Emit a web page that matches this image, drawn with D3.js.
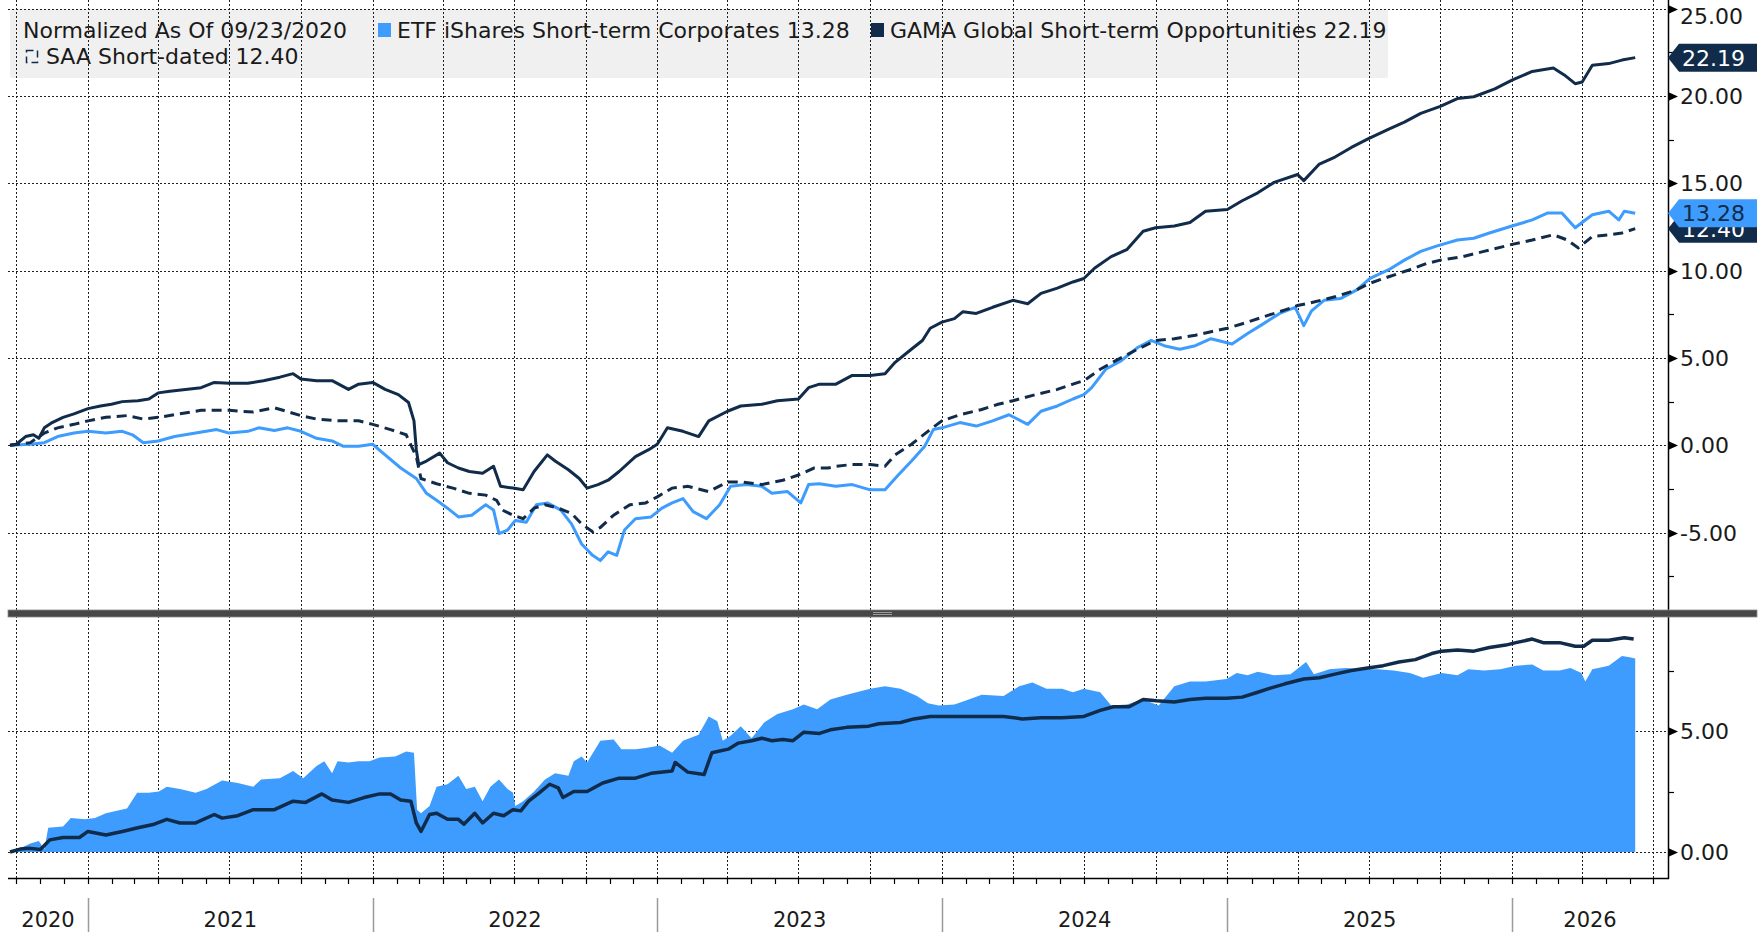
<!DOCTYPE html>
<html>
<head>
<meta charset="utf-8">
<script src="https://cdn.jsdelivr.net/npm/d3@7"></script>
<style>
    html, body { margin: 0; padding: 0; background: #fff; }
    svg { display: block; font-family: 'DejaVu Sans', sans-serif; }
</style>
</head>
<body>
<div id="main-container"></div>
<script>
// Series values, [date, value]
const ETF_SERIES = [
    ['2020-09-23', 0], ['2020-10-19', 0.06], ['2020-11-06', 0.15], ['2020-11-23', 0.5], ['2020-12-14', 0.7],
    ['2021-01-01', 0.8], ['2021-01-24', 0.7], ['2021-02-14', 0.8], ['2021-02-27', 0.6], ['2021-03-13', 0.15],
    ['2021-04-01', 0.25], ['2021-04-22', 0.5], ['2021-05-19', 0.7], ['2021-06-15', 0.9], ['2021-07-01', 0.7],
    ['2021-07-25', 0.8], ['2021-08-08', 1.0], ['2021-08-28', 0.85], ['2021-09-14', 1.0], ['2021-10-01', 0.8],
    ['2021-10-21', 0.4], ['2021-11-10', 0.25], ['2021-11-24', -0.05], ['2021-12-14', -0.05], ['2022-01-01', 0.06],
    ['2022-01-17', -0.55], ['2022-02-06', -1.3], ['2022-02-26', -1.9], ['2022-03-11', -2.75], ['2022-03-24', -3.15],
    ['2022-04-07', -3.6], ['2022-04-21', -4.1], ['2022-05-08', -4.0], ['2022-05-26', -3.4], ['2022-06-05', -3.7],
    ['2022-06-12', -5.05], ['2022-06-23', -4.85], ['2022-07-03', -4.3], ['2022-07-17', -4.4], ['2022-07-30', -3.4],
    ['2022-08-13', -3.3], ['2022-08-30', -3.7], ['2022-09-13', -4.5], ['2022-09-26', -5.65], ['2022-10-10', -6.3],
    ['2022-10-20', -6.6], ['2022-10-30', -6.1], ['2022-11-10', -6.3], ['2022-11-20', -4.85], ['2022-12-04', -4.2],
    ['2022-12-24', -4.1], ['2023-01-07', -3.6], ['2023-01-20', -3.3], ['2023-02-03', -3.05], ['2023-02-16', -3.8],
    ['2023-03-05', -4.2], ['2023-03-22', -3.4], ['2023-04-05', -2.35], ['2023-04-25', -2.25], ['2023-05-15', -2.35],
    ['2023-05-28', -2.75], ['2023-06-17', -2.65], ['2023-07-04', -3.3], ['2023-07-14', -2.25], ['2023-07-28', -2.2],
    ['2023-08-18', -2.35], ['2023-09-08', -2.25], ['2023-10-01', -2.55], ['2023-10-20', -2.55], ['2023-11-06', -1.7],
    ['2023-11-23', -0.9], ['2023-12-10', -0.05], ['2023-12-21', 0.9], ['2024-01-01', 1.0], ['2024-01-24', 1.3],
    ['2024-02-14', 1.1], ['2024-03-06', 1.4], ['2024-03-27', 1.75], ['2024-04-20', 1.2], ['2024-05-07', 1.95],
    ['2024-05-28', 2.25], ['2024-06-17', 2.65], ['2024-07-01', 2.9], ['2024-07-11', 3.3], ['2024-07-29', 4.35],
    ['2024-08-18', 4.85], ['2024-09-08', 5.6], ['2024-09-25', 6.0], ['2024-10-12', 5.7], ['2024-11-01', 5.5],
    ['2024-11-21', 5.7], ['2024-12-11', 6.1], ['2025-01-07', 5.8], ['2025-01-27', 6.4], ['2025-02-16', 6.95],
    ['2025-03-09', 7.55], ['2025-03-29', 7.9], ['2025-04-09', 6.85], ['2025-04-19', 7.7], ['2025-05-05', 8.3],
    ['2025-05-26', 8.4], ['2025-06-16', 8.9], ['2025-07-03', 9.55], ['2025-07-27', 10.05], ['2025-08-16', 10.6],
    ['2025-09-06', 11.1], ['2025-09-26', 11.4], ['2025-10-23', 11.75], ['2025-11-13', 11.85], ['2025-12-03', 12.15],
    ['2026-01-01', 12.55], ['2026-01-27', 12.9], ['2026-02-16', 13.3], ['2026-03-06', 13.3], ['2026-03-23', 12.45],
    ['2026-04-14', 13.2], ['2026-05-05', 13.4], ['2026-05-18', 12.9], ['2026-05-25', 13.4], ['2026-06-08', 13.28]
];

const GAMA_SERIES = [
    ['2020-09-23', 0], ['2020-10-01', 0.06], ['2020-10-13', 0.5], ['2020-10-23', 0.6], ['2020-10-30', 0.4],
    ['2020-11-06', 1.0], ['2020-11-16', 1.3], ['2020-11-30', 1.6], ['2020-12-14', 1.8], ['2021-01-01', 2.1],
    ['2021-01-17', 2.25], ['2021-01-31', 2.35], ['2021-02-14', 2.5], ['2021-03-06', 2.55], ['2021-03-20', 2.65],
    ['2021-04-01', 3.0], ['2021-04-16', 3.1], ['2021-05-06', 3.2], ['2021-05-26', 3.3], ['2021-06-12', 3.6],
    ['2021-07-01', 3.55], ['2021-07-25', 3.55], ['2021-08-14', 3.7], ['2021-09-04', 3.9], ['2021-09-21', 4.1],
    ['2021-10-01', 3.8], ['2021-10-21', 3.7], ['2021-11-10', 3.7], ['2021-12-01', 3.2], ['2021-12-14', 3.5],
    ['2022-01-01', 3.6], ['2022-01-17', 3.2], ['2022-02-03', 2.9], ['2022-02-16', 2.45], ['2022-02-23', 1.4],
    ['2022-02-26', -0.25], ['2022-03-01', -1.1], ['2022-03-11', -0.9], ['2022-03-28', -0.45], ['2022-04-07', -1.0],
    ['2022-04-21', -1.3], ['2022-05-05', -1.5], ['2022-05-22', -1.6], ['2022-06-05', -1.2], ['2022-06-14', -2.35],
    ['2022-06-30', -2.45], ['2022-07-13', -2.55], ['2022-07-27', -1.5], ['2022-08-13', -0.55], ['2022-08-23', -0.9],
    ['2022-09-09', -1.4], ['2022-09-23', -1.9], ['2022-10-03', -2.45], ['2022-10-17', -2.25], ['2022-10-30', -2.0],
    ['2022-11-13', -1.5], ['2022-12-04', -0.65], ['2022-12-21', -0.25], ['2023-01-01', 0.06], ['2023-01-14', 1.0],
    ['2023-02-03', 0.8], ['2023-02-23', 0.5], ['2023-03-08', 1.4], ['2023-04-01', 1.95], ['2023-04-18', 2.25],
    ['2023-05-15', 2.35], ['2023-06-04', 2.55], ['2023-07-01', 2.65], ['2023-07-14', 3.3], ['2023-07-28', 3.5],
    ['2023-08-18', 3.5], ['2023-09-08', 4.0], ['2023-10-01', 4.0], ['2023-10-20', 4.1], ['2023-11-02', 4.75],
    ['2023-11-20', 5.4], ['2023-12-07', 6.0], ['2023-12-17', 6.7], ['2024-01-01', 7.05], ['2024-01-17', 7.25],
    ['2024-01-28', 7.65], ['2024-02-14', 7.55], ['2024-03-06', 7.9], ['2024-04-01', 8.3], ['2024-04-20', 8.1],
    ['2024-05-07', 8.7], ['2024-05-28', 9.0], ['2024-06-17', 9.35], ['2024-07-01', 9.55], ['2024-07-15', 10.15],
    ['2024-08-05', 10.8], ['2024-08-25', 11.2], ['2024-09-15', 12.25], ['2024-10-01', 12.45], ['2024-10-25', 12.55],
    ['2024-11-14', 12.75], ['2024-12-04', 13.4], ['2025-01-01', 13.5], ['2025-01-20', 14.0], ['2025-02-09', 14.45],
    ['2025-03-02', 15.05], ['2025-04-01', 15.5], ['2025-04-09', 15.15], ['2025-04-29', 16.1], ['2025-05-19', 16.5],
    ['2025-06-09', 17.05], ['2025-07-01', 17.55], ['2025-07-27', 18.1], ['2025-08-16', 18.5], ['2025-09-06', 19.0],
    ['2025-10-01', 19.4], ['2025-10-23', 19.85], ['2025-11-13', 19.95], ['2025-12-10', 20.4], ['2026-01-01', 20.9],
    ['2026-01-27', 21.4], ['2026-02-23', 21.6], ['2026-03-09', 21.2], ['2026-03-23', 20.7], ['2026-04-01', 20.8],
    ['2026-04-14', 21.75], ['2026-05-05', 21.85], ['2026-05-22', 22.05], ['2026-06-08', 22.19]
];

const SAA_SERIES = [
    ['2020-09-23', 0], ['2020-10-19', 0.15], ['2020-11-06', 0.7], ['2020-11-23', 1.0], ['2020-12-14', 1.2],
    ['2021-01-01', 1.4], ['2021-01-24', 1.6], ['2021-02-20', 1.7], ['2021-03-13', 1.5], ['2021-04-01', 1.6],
    ['2021-04-29', 1.8], ['2021-05-26', 2.0], ['2021-07-01', 2.0], ['2021-08-01', 1.9], ['2021-08-28', 2.15],
    ['2021-10-01', 1.7], ['2021-10-21', 1.5], ['2021-11-17', 1.4], ['2021-12-14', 1.4], ['2022-01-01', 1.2],
    ['2022-01-24', 0.9], ['2022-02-13', 0.6], ['2022-02-26', -0.65], ['2022-03-04', -1.9], ['2022-03-24', -2.2],
    ['2022-04-14', -2.45], ['2022-05-05', -2.75], ['2022-05-26', -2.85], ['2022-06-09', -3.15], ['2022-06-16', -3.7],
    ['2022-06-30', -4.0], ['2022-07-13', -4.2], ['2022-07-27', -3.6], ['2022-08-10', -3.4], ['2022-08-27', -3.6],
    ['2022-09-13', -3.9], ['2022-09-26', -4.5], ['2022-10-10', -4.95], ['2022-10-20', -4.7], ['2022-11-06', -4.0],
    ['2022-11-27', -3.4], ['2022-12-17', -3.3], ['2023-01-01', -2.95], ['2023-01-20', -2.45], ['2023-02-09', -2.35],
    ['2023-03-08', -2.65], ['2023-04-01', -2.1], ['2023-04-18', -2.1], ['2023-05-15', -2.25], ['2023-06-11', -2.0],
    ['2023-07-01', -1.7], ['2023-07-21', -1.3], ['2023-08-08', -1.3], ['2023-08-18', -1.2], ['2023-09-08', -1.1],
    ['2023-10-01', -1.1], ['2023-10-20', -1.2], ['2023-11-02', -0.55], ['2023-11-23', 0.06], ['2023-12-14', 0.8],
    ['2024-01-01', 1.4], ['2024-01-24', 1.75], ['2024-02-21', 2.05], ['2024-03-13', 2.35], ['2024-04-01', 2.55],
    ['2024-04-30', 2.9], ['2024-05-28', 3.2], ['2024-06-17', 3.5], ['2024-07-01', 3.7], ['2024-07-22', 4.35],
    ['2024-08-11', 4.85], ['2024-09-08', 5.5], ['2024-10-01', 6.0], ['2024-10-25', 6.1], ['2024-11-21', 6.3],
    ['2024-12-11', 6.5], ['2025-01-01', 6.7], ['2025-01-27', 7.05], ['2025-02-23', 7.45], ['2025-03-16', 7.75],
    ['2025-04-01', 8.0], ['2025-04-22', 8.2], ['2025-05-19', 8.5], ['2025-06-16', 8.9], ['2025-07-01', 9.25],
    ['2025-07-27', 9.65], ['2025-08-23', 10.05], ['2025-09-13', 10.4], ['2025-10-01', 10.6], ['2025-10-30', 10.8],
    ['2025-11-26', 11.1], ['2026-01-01', 11.5], ['2026-01-27', 11.75], ['2026-02-23', 12.05], ['2026-03-13', 11.75],
    ['2026-03-27', 11.3], ['2026-04-14', 11.95], ['2026-05-05', 12.05], ['2026-05-22', 12.15], ['2026-06-08', 12.40]
];

// Lower panel: filled series and line
const LOWER_AREA_SERIES = [
    ['2020-09-23', 0], ['2020-10-06', 0.15], ['2020-10-19', 0.35], ['2020-10-30', 0.45], ['2020-11-06', 0.1],
    ['2020-11-11', 1.0], ['2020-11-30', 1.05], ['2020-12-10', 1.4], ['2020-12-28', 1.35], ['2021-01-10', 1.4],
    ['2021-01-24', 1.6], ['2021-02-07', 1.7], ['2021-02-20', 1.8], ['2021-03-05', 2.45], ['2021-03-20', 2.45],
    ['2021-04-02', 2.5], ['2021-04-12', 2.7], ['2021-04-29', 2.6], ['2021-05-19', 2.45], ['2021-06-02', 2.6],
    ['2021-06-22', 2.95], ['2021-07-12', 2.85], ['2021-08-01', 2.7], ['2021-08-11', 3.0], ['2021-09-04', 3.05],
    ['2021-09-21', 3.35], ['2021-10-04', 3.05], ['2021-10-21', 3.55], ['2021-10-31', 3.75], ['2021-11-10', 3.25],
    ['2021-11-17', 3.75], ['2021-12-01', 3.7], ['2021-12-14', 3.75], ['2021-12-28', 3.75], ['2022-01-10', 3.9],
    ['2022-01-30', 3.95], ['2022-02-13', 4.15], ['2022-02-23', 4.1], ['2022-02-27', 1.75], ['2022-03-04', 1.6],
    ['2022-03-15', 1.9], ['2022-03-24', 2.7], ['2022-04-07', 2.8], ['2022-04-21', 3.15], ['2022-05-01', 2.6],
    ['2022-05-12', 2.7], ['2022-05-22', 2.1], ['2022-06-01', 2.7], ['2022-06-12', 3.0], ['2022-06-23', 2.6],
    ['2022-06-30', 2.45], ['2022-07-03', 1.9], ['2022-07-13', 2.1], ['2022-07-27', 2.5], ['2022-08-10', 3.0],
    ['2022-08-23', 3.25], ['2022-09-09', 3.15], ['2022-09-16', 3.75], ['2022-09-26', 3.95], ['2022-10-03', 3.7],
    ['2022-10-20', 4.6], ['2022-11-06', 4.65], ['2022-11-16', 4.25], ['2022-12-04', 4.25], ['2022-12-17', 4.3],
    ['2023-01-04', 4.4], ['2023-01-20', 4.1], ['2023-02-03', 4.6], ['2023-02-23', 4.85], ['2023-03-08', 5.6],
    ['2023-03-19', 5.4], ['2023-03-26', 4.6], ['2023-04-05', 4.8], ['2023-04-18', 5.2], ['2023-05-02', 4.7],
    ['2023-05-18', 5.35], ['2023-06-04', 5.7], ['2023-06-24', 5.9], ['2023-07-08', 6.1], ['2023-07-25', 5.9],
    ['2023-08-11', 6.3], ['2023-09-01', 6.5], ['2023-10-01', 6.75], ['2023-10-20', 6.85], ['2023-11-09', 6.75],
    ['2023-11-30', 6.45], ['2023-12-14', 6.15], ['2023-12-28', 6.05], ['2024-01-17', 6.1], ['2024-01-31', 6.25],
    ['2024-02-21', 6.5], ['2024-03-20', 6.45], ['2024-04-09', 6.85], ['2024-04-26', 7.0], ['2024-05-14', 6.75],
    ['2024-06-03', 6.75], ['2024-06-17', 6.6], ['2024-07-01', 6.75], ['2024-07-22', 6.6], ['2024-08-05', 6.05],
    ['2024-08-25', 6.1], ['2024-09-15', 6.3], ['2024-10-05', 6.05], ['2024-10-25', 6.85], ['2024-11-14', 7.05],
    ['2024-12-04', 7.05], ['2024-12-31', 7.15], ['2025-01-13', 7.4], ['2025-01-27', 7.3], ['2025-02-09', 7.45],
    ['2025-03-02', 7.3], ['2025-03-23', 7.35], ['2025-04-12', 7.85], ['2025-04-22', 7.35], ['2025-05-12', 7.55],
    ['2025-06-02', 7.6], ['2025-06-23', 7.55], ['2025-07-13', 7.55], ['2025-08-02', 7.5], ['2025-08-23', 7.4],
    ['2025-09-09', 7.2], ['2025-10-03', 7.4], ['2025-10-23', 7.3], ['2025-11-06', 7.55], ['2025-11-26', 7.5],
    ['2025-12-17', 7.55], ['2026-01-06', 7.7], ['2026-01-27', 7.75], ['2026-02-10', 7.5], ['2026-03-03', 7.5],
    ['2026-03-17', 7.6], ['2026-03-31', 7.4], ['2026-04-05', 7.05], ['2026-04-14', 7.55], ['2026-05-05', 7.7],
    ['2026-05-22', 8.1], ['2026-06-01', 8.05], ['2026-06-08', 8.0]
];

const LOWER_LINE_SERIES = [
    ['2020-09-23', 0], ['2020-10-06', 0.12], ['2020-10-19', 0.15], ['2020-11-01', 0.1], ['2020-11-13', 0.5],
    ['2020-11-30', 0.6], ['2020-12-21', 0.6], ['2021-01-01', 0.85], ['2021-01-24', 0.7], ['2021-02-14', 0.85],
    ['2021-03-06', 1.0], ['2021-03-27', 1.15], ['2021-04-12', 1.35], ['2021-04-29', 1.2], ['2021-05-19', 1.2],
    ['2021-06-12', 1.55], ['2021-06-22', 1.4], ['2021-07-12', 1.5], ['2021-08-01', 1.75], ['2021-08-28', 1.75],
    ['2021-09-21', 2.1], ['2021-10-07', 2.05], ['2021-10-28', 2.4], ['2021-11-10', 2.15], ['2021-12-01', 2.05],
    ['2021-12-21', 2.25], ['2022-01-10', 2.4], ['2022-01-24', 2.4], ['2022-02-06', 2.15], ['2022-02-19', 2.1],
    ['2022-02-26', 1.2], ['2022-03-04', 0.85], ['2022-03-15', 1.55], ['2022-03-24', 1.6], ['2022-04-07', 1.35],
    ['2022-04-21', 1.35], ['2022-04-28', 1.15], ['2022-05-12', 1.6], ['2022-05-22', 1.2], ['2022-06-05', 1.6],
    ['2022-06-18', 1.5], ['2022-06-30', 1.75], ['2022-07-10', 1.7], ['2022-07-20', 2.1], ['2022-08-03', 2.45],
    ['2022-08-16', 2.8], ['2022-08-27', 2.65], ['2022-09-02', 2.25], ['2022-09-16', 2.5], ['2022-10-03', 2.5],
    ['2022-10-23', 2.85], ['2022-11-13', 3.05], ['2022-12-04', 3.05], ['2022-12-24', 3.25], ['2023-01-20', 3.35],
    ['2023-01-24', 3.7], ['2023-02-09', 3.3], ['2023-03-02', 3.2], ['2023-03-12', 4.1], ['2023-04-02', 4.25],
    ['2023-04-15', 4.5], ['2023-05-02', 4.6], ['2023-05-15', 4.7], ['2023-05-28', 4.6], ['2023-06-11', 4.65],
    ['2023-06-24', 4.6], ['2023-07-08', 4.95], ['2023-07-28', 4.9], ['2023-08-11', 5.05], ['2023-09-01', 5.15],
    ['2023-09-29', 5.2], ['2023-10-12', 5.3], ['2023-11-09', 5.35], ['2023-11-26', 5.5], ['2023-12-17', 5.6],
    ['2024-01-11', 5.6], ['2024-02-14', 5.6], ['2024-03-20', 5.6], ['2024-04-13', 5.5], ['2024-05-07', 5.55],
    ['2024-06-03', 5.55], ['2024-07-01', 5.6], ['2024-07-22', 5.85], ['2024-08-08', 6.0], ['2024-08-28', 6.0],
    ['2024-09-15', 6.3], ['2024-10-02', 6.25], ['2024-10-25', 6.2], ['2024-11-14', 6.3], ['2024-12-04', 6.35],
    ['2024-12-31', 6.35], ['2025-01-20', 6.4], ['2025-02-09', 6.6], ['2025-02-23', 6.75], ['2025-03-16', 6.95],
    ['2025-04-09', 7.15], ['2025-04-29', 7.2], ['2025-05-19', 7.35], ['2025-06-09', 7.5], ['2025-06-30', 7.6],
    ['2025-07-20', 7.7], ['2025-08-09', 7.85], ['2025-08-30', 7.95], ['2025-09-20', 8.2], ['2025-10-03', 8.3],
    ['2025-10-23', 8.35], ['2025-11-13', 8.3], ['2025-12-03', 8.45], ['2025-12-24', 8.55], ['2026-01-06', 8.65],
    ['2026-01-27', 8.8], ['2026-02-10', 8.65], ['2026-03-03', 8.65], ['2026-03-23', 8.5], ['2026-04-03', 8.5],
    ['2026-04-14', 8.75], ['2026-05-05', 8.75], ['2026-05-25', 8.85], ['2026-06-06', 8.8]
];

const TOP_TICKS = [-5, 0, 5, 10, 15, 20, 25];
const TOP_MINOR_TICKS = [-7.5, -2.5, 2.5, 7.5, 12.5, 17.5, 22.5];
const BOTTOM_TICKS = [0, 5];
const BOTTOM_MINOR_TICKS = [2.5, 7.5];
const YEAR_LABELS = ['2020', '2021', '2022', '2023', '2024', '2025', '2026'];

const LEGEND_TITLE = 'Normalized As Of 09/23/2020';
const ETF_NAME = 'ETF iShares Short-term Corporates';
const GAMA_NAME = 'GAMA Global Short-term Opportunities';
const SAA_NAME = 'SAA Short-dated';

const NAVY = '#112b4a';
const BLUE = '#3d9cfd';
const GRID = '#1e1e1e';

const SVG_WIDTH = 1763;
const SVG_HEIGHT = 932;
const PLOT_LEFT = 8;
const AXIS_X = 1668;
const TOP_PANEL = { top: 0, bottom: 610 };
const BOTTOM_PANEL = { top: 617, bottom: 878 };

const parse = d3.utcParse('%Y-%m-%d');
const toPoints = arr => arr.map(([d, v]) => ({ date: parse(d), value: v }));

const etf = toPoints(ETF_SERIES);
const gama = toPoints(GAMA_SERIES);
const saa = toPoints(SAA_SERIES);
const lowerArea = toPoints(LOWER_AREA_SERIES);
const lowerLine = toPoints(LOWER_LINE_SERIES);

const SVG = d3.select('#main-container').append('svg')
    .attr('width', SVG_WIDTH)
    .attr('height', SVG_HEIGHT);

// Scales
const x = d3.scaleUtc()
    .domain([new Date(Date.UTC(2021, 0, 1)), new Date(Date.UTC(2026, 0, 1))])
    .range([88, 1512]);
const yTop = d3.scaleLinear().domain([0, 20]).range([445.3, 95.9]);
const yBottom = d3.scaleLinear().domain([0, 5]).range([852, 731]);

const quarterDates = d3.utcMonth.every(3).range(new Date(Date.UTC(2020, 9, 1)), new Date(Date.UTC(2026, 7, 1)));
const monthDates = d3.utcMonth.range(new Date(Date.UTC(2020, 9, 1)), new Date(Date.UTC(2026, 7, 1)));
const yearStarts = d3.utcYear.range(new Date(Date.UTC(2021, 0, 1)), new Date(Date.UTC(2027, 0, 1)));

// Legend background (grid runs over it)
const LEGEND = SVG.append('g').attr('id', 'legend');
LEGEND.append('rect')
    .attr('x', 10).attr('y', 9)
    .attr('width', 1378).attr('height', 69)
    .attr('rx', 2)
    .attr('fill', '#f0f0f0');

// Grid
const GRID_G = SVG.append('g').attr('id', 'grid')
    .attr('stroke', GRID)
    .attr('stroke-width', 1)
    .attr('stroke-dasharray', '2,2');

GRID_G.selectAll('.vgrid')
    .data(quarterDates)
    .enter()
    .append('line')
    .attr('x1', d => Math.round(x(d)) + 0.5)
    .attr('x2', d => Math.round(x(d)) + 0.5)
    .attr('y1', 0)
    .attr('y2', BOTTOM_PANEL.bottom);

GRID_G.selectAll('.hgrid-top')
    .data(TOP_TICKS)
    .enter()
    .append('line')
    .attr('x1', PLOT_LEFT)
    .attr('x2', AXIS_X)
    .attr('y1', d => Math.round(yTop(d)) + 0.5)
    .attr('y2', d => Math.round(yTop(d)) + 0.5);

GRID_G.selectAll('.hgrid-bottom')
    .data(BOTTOM_TICKS)
    .enter()
    .append('line')
    .attr('x1', PLOT_LEFT)
    .attr('x2', AXIS_X)
    .attr('y1', d => Math.round(yBottom(d)) + 0.5)
    .attr('y2', d => Math.round(yBottom(d)) + 0.5);

// Legend text
const legendText = (tx, ty, txt) => LEGEND.append('text')
    .attr('x', tx).attr('y', ty)
    .style('font-size', '22px')
    .attr('fill', '#1a1a1a')
    .text(txt);

legendText(23, 38, LEGEND_TITLE);
LEGEND.append('rect').attr('x', 378).attr('y', 23).attr('width', 13).attr('height', 14).attr('fill', BLUE);
legendText(397, 38, `${ETF_NAME} ${etf[etf.length - 1].value.toFixed(2)}`);
LEGEND.append('rect').attr('x', 871).attr('y', 23).attr('width', 13).attr('height', 14).attr('fill', NAVY);
legendText(890, 38, `${GAMA_NAME} ${gama[gama.length - 1].value.toFixed(2)}`);
LEGEND.append('rect')
    .attr('x', 26.5).attr('y', 50.5).attr('width', 11).attr('height', 12)
    .attr('fill', 'none')
    .attr('stroke', NAVY)
    .attr('stroke-width', 1.5)
    .attr('stroke-dasharray', '7,4');
legendText(46, 64, `${SAA_NAME} ${saa[saa.length - 1].value.toFixed(2)}`);

// Clips
const defs = SVG.append('defs');
defs.append('clipPath').attr('id', 'clip-top')
    .append('rect').attr('x', PLOT_LEFT).attr('y', TOP_PANEL.top)
    .attr('width', AXIS_X - PLOT_LEFT).attr('height', TOP_PANEL.bottom - TOP_PANEL.top);
defs.append('clipPath').attr('id', 'clip-bottom')
    .append('rect').attr('x', PLOT_LEFT).attr('y', BOTTOM_PANEL.top)
    .attr('width', AXIS_X - PLOT_LEFT).attr('height', BOTTOM_PANEL.bottom - BOTTOM_PANEL.top);

// Top panel lines
const lineTop = d3.line().x(d => x(d.date)).y(d => yTop(d.value));
const TOP_G = SVG.append('g').attr('clip-path', 'url(#clip-top)');

TOP_G.append('path')
    .datum(etf)
    .attr('d', lineTop)
    .attr('fill', 'none')
    .attr('stroke', BLUE)
    .attr('stroke-width', 3)
    .attr('stroke-linejoin', 'round');

TOP_G.append('path')
    .datum(gama)
    .attr('d', lineTop)
    .attr('fill', 'none')
    .attr('stroke', NAVY)
    .attr('stroke-width', 3)
    .attr('stroke-linejoin', 'round');

TOP_G.append('path')
    .datum(saa)
    .attr('d', lineTop)
    .attr('fill', 'none')
    .attr('stroke', NAVY)
    .attr('stroke-width', 3)
    .attr('stroke-dasharray', '10,6');

// Bottom panel
const BOTTOM_G = SVG.append('g').attr('clip-path', 'url(#clip-bottom)');
const areaBottom = d3.area().x(d => x(d.date)).y0(yBottom(0)).y1(d => yBottom(d.value));
const lineBottom = d3.line().x(d => x(d.date)).y(d => yBottom(d.value));

BOTTOM_G.append('path')
    .datum(lowerArea)
    .attr('d', areaBottom)
    .attr('fill', BLUE);

BOTTOM_G.append('path')
    .datum(lowerLine)
    .attr('d', lineBottom)
    .attr('fill', 'none')
    .attr('stroke', NAVY)
    .attr('stroke-width', 3.5)
    .attr('stroke-linejoin', 'round');

// Axes
const AXES = SVG.append('g').attr('id', 'axes');
AXES.append('line')
    .attr('x1', AXIS_X + 0.5).attr('x2', AXIS_X + 0.5)
    .attr('y1', 0).attr('y2', BOTTOM_PANEL.bottom + 1)
    .attr('stroke', '#000').attr('stroke-width', 1.5);
AXES.append('line')
    .attr('x1', PLOT_LEFT).attr('x2', AXIS_X + 1)
    .attr('y1', BOTTOM_PANEL.bottom + 0.5).attr('y2', BOTTOM_PANEL.bottom + 0.5)
    .attr('stroke', '#000').attr('stroke-width', 1.5);

AXES.selectAll('.mtick')
    .data(monthDates)
    .enter()
    .append('line')
    .attr('x1', d => Math.round(x(d)) + 0.5)
    .attr('x2', d => Math.round(x(d)) + 0.5)
    .attr('y1', BOTTOM_PANEL.bottom)
    .attr('y2', BOTTOM_PANEL.bottom + 6)
    .attr('stroke', '#000').attr('stroke-width', 1.2);

const drawYAxis = (scale, majors, minors, cls, minY) => {
    AXES.selectAll(`.arrow-${cls}`)
        .data(majors)
        .enter()
        .append('path')
        .attr('d', d => {
            const yy = Math.round(scale(d)) + 0.5;
            return `M${AXIS_X},${yy - 4.5}L${AXIS_X + 10},${yy}L${AXIS_X},${yy + 4.5}Z`;
        })
        .attr('fill', '#000');
    AXES.selectAll(`.minor-${cls}`)
        .data(minors)
        .enter()
        .append('line')
        .attr('x1', AXIS_X).attr('x2', AXIS_X + 6)
        .attr('y1', d => Math.round(scale(d)) + 0.5)
        .attr('y2', d => Math.round(scale(d)) + 0.5)
        .attr('stroke', '#000').attr('stroke-width', 1.2);
    AXES.selectAll(`.label-${cls}`)
        .data(majors)
        .enter()
        .append('text')
        .attr('x', AXIS_X + 12)
        .attr('y', d => Math.max(scale(d), minY))
        .attr('dy', '0.36em')
        .style('font-size', '22px')
        .attr('fill', '#1a1a1a')
        .text(d => d.toFixed(2));
};
drawYAxis(yTop, TOP_TICKS, TOP_MINOR_TICKS, 'top', 16);
drawYAxis(yBottom, BOTTOM_TICKS, BOTTOM_MINOR_TICKS, 'bottom', 0);

// Year labels and separators
AXES.selectAll('.ysep')
    .data(yearStarts)
    .enter()
    .append('line')
    .attr('x1', d => Math.round(x(d)) + 0.5)
    .attr('x2', d => Math.round(x(d)) + 0.5)
    .attr('y1', 898).attr('y2', SVG_HEIGHT)
    .attr('stroke', '#9a9a9a').attr('stroke-width', 1.5);

AXES.selectAll('.ylabel')
    .data(YEAR_LABELS)
    .enter()
    .append('text')
    .attr('x', d => {
        const y0 = +d;
        const a = Math.max(PLOT_LEFT, x(new Date(Date.UTC(y0, 0, 1))));
        const b = Math.min(AXIS_X, x(new Date(Date.UTC(y0 + 1, 0, 1))));
        return (a + b) / 2;
    })
    .attr('y', 927)
    .attr('text-anchor', 'middle')
    .style('font-size', '21px')
    .attr('fill', '#1a1a1a')
    .text(d => d);

// Panel separator
SVG.append('rect')
    .attr('x', PLOT_LEFT).attr('y', TOP_PANEL.bottom)
    .attr('width', 1757 - PLOT_LEFT).attr('height', BOTTOM_PANEL.top - TOP_PANEL.bottom)
    .attr('fill', '#474747')
    .attr('stroke', '#8a8a8a')
    .attr('stroke-width', 0.8);
[612.5, 614.5].forEach(gy => {
    SVG.append('line')
        .attr('x1', 873).attr('x2', 892)
        .attr('y1', gy).attr('y2', gy)
        .attr('stroke', '#9c9c9c').attr('stroke-width', 1);
});

// Last value tags
const TAGS = [
    { value: saa[saa.length - 1].value, fill: NAVY, text: '#ffffff' },
    { value: gama[gama.length - 1].value, fill: NAVY, text: '#ffffff' },
    { value: etf[etf.length - 1].value, fill: BLUE, text: NAVY }
];
const TAG_G = SVG.append('g').attr('id', 'tags');
TAGS.forEach(t => {
    const yy = yTop(t.value);
    TAG_G.append('path')
        .attr('d', `M${AXIS_X},${yy}L${AXIS_X + 11},${yy - 14}L1757,${yy - 14}L1757,${yy + 14}L${AXIS_X + 11},${yy + 14}Z`)
        .attr('fill', t.fill);
    TAG_G.append('text')
        .attr('x', AXIS_X + 14)
        .attr('y', yy)
        .attr('dy', '0.36em')
        .style('font-size', '22px')
        .attr('fill', t.text)
        .text(t.value.toFixed(2));
});
</script>
</body>
</html>
